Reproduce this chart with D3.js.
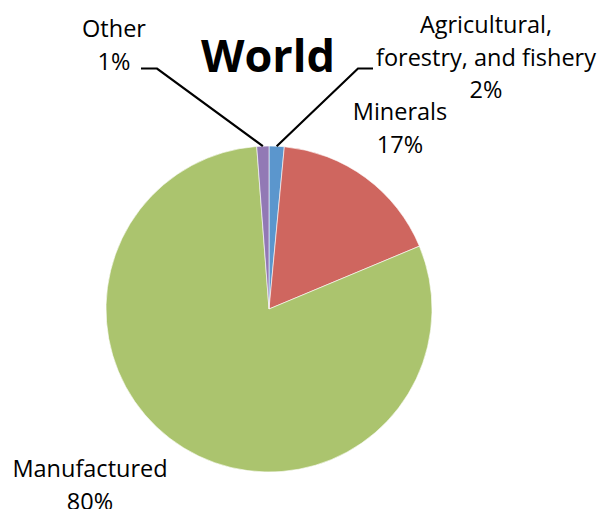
<!DOCTYPE html>
<html><head><meta charset="utf-8">
<script src="https://cdn.jsdelivr.net/npm/d3@7"></script>
<style>body{margin:0;background:#fff;} text{font-family:"Open Sans",sans-serif;}</style>
</head><body>
<svg id="c" width="599" height="509"></svg>
<script>
const categories = ["Agricultural, forestry, and fishery", "Minerals", "Manufactured", "Other"];
const labelLines = [["Agricultural,", "forestry, and fishery"], ["Minerals"], ["Manufactured"], ["Other"]];
const values = [1.5, 17.2, 80.1, 1.2];
const colors = ["#5b96cd", "#cf665f", "#abc46e", "#9279b5"];
const title = "World";

const svg = d3.select("#c");
const cx = 269, cy = 309, R = 163;
const pie = d3.pie().sort(null).value(d => d.v);
const data = pie(values.map((v, i) => ({v, i})));
const arc = d3.arc().innerRadius(0).outerRadius(R);
const g = svg.append("g").attr("transform", `translate(${cx},${cy})`);
g.selectAll("path").data(data).join("path")
  .attr("d", arc).attr("fill", d => colors[d.data.i])
  .attr("stroke", "#fff").attr("stroke-width", 0.6);

svg.append("text").attr("x", 268).attr("y", 72).attr("text-anchor", "middle")
  .attr("font-size", 45).attr("font-weight", 700).attr("fill", "#000").text(title);

const fmt = v => Math.round(v) + "%";
// label positions (center x, first baseline y)
const labelPos = [[486, 33], [400, 120], [90, 477], [114, 37]];
const lh = 32.5;
labelLines.forEach((lines, i) => {
  const t = svg.append("text").attr("text-anchor", "middle").attr("font-size", 23.5).attr("fill", "#000");
  const all = lines.concat([fmt(values[i])]);
  all.forEach((s, k) => t.append("tspan").attr("x", labelPos[i][0]).attr("y", labelPos[i][1] + k * lh).text(s));
});

// leader lines
const leader = (d, ex, ey, hx) => {
  const a = (d.startAngle + d.endAngle) / 2;
  const px = cx + Math.sin(a) * R, py = cy - Math.cos(a) * R;
  svg.append("polyline").attr("points", `${px},${py} ${ex},${ey} ${hx},${ey}`)
    .attr("fill", "none").attr("stroke", "#000").attr("stroke-width", 2.2);
};
leader(data[0], 358, 68.5, 373);
leader(data[3], 157, 68.5, 141);
</script>
</body></html>
